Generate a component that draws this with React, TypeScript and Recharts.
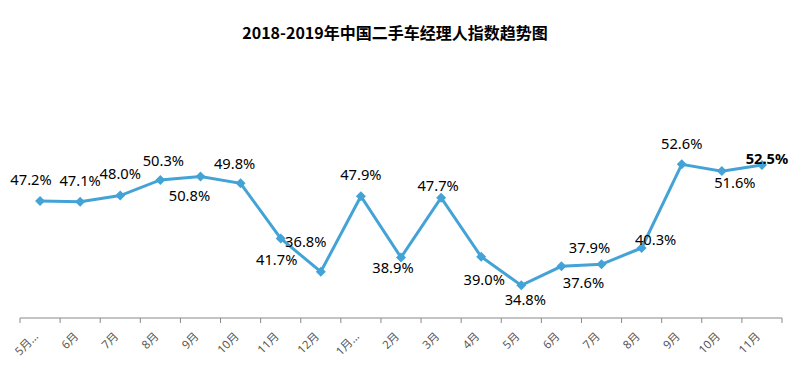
import { LineChart, Line, XAxis, YAxis } from "recharts";

const months = ["5月…", "6月", "7月", "8月", "9月", "10月", "11月", "12月", "1月…", "2月", "3月", "4月", "5月", "6月", "7月", "8月", "9月", "10月", "11月"];
const indexValues = [47.2, 47.1, 48.0, 50.3, 50.8, 49.8, 41.7, 36.8, 47.9, 38.9, 47.7, 39.0, 34.8, 37.6, 37.9, 40.3, 52.6, 51.6, 52.5];

// where each data label sits relative to its point (dx, dy), as in the source chart
const labelOffsets: [number, number][] = [
  [-9, -22], [0, -22], [0, -23], [3, -20], [-11, 18], [-6, -20], [-4, 21], [-15, -31],
  [0, -22], [-8, 10], [-3, -13], [3, 22], [4, 14], [22, 16], [-12, -17], [14, -9],
  [0, -21], [13, 11], [5, -7],
];

const data = months.map((m, i) => ({ month: m, value: indexValues[i] }));

const W = 802;
const H = 371;
const MARGIN = { top: 114, right: 20, bottom: 3, left: 20 };
const BAND = (W - MARGIN.left - MARGIN.right) / months.length;

const LINE = "#44a3d6";
const AXIS = "#898989";
const FONT = "'Noto Sans', 'Noto Sans CJK SC', sans-serif";

const renderDiamond = (props: any) => {
  const { cx, cy, index } = props;
  const r = 5;
  return (
    <polygon
      key={`d-${index}`}
      points={`${cx},${cy - r} ${cx + r},${cy} ${cx},${cy + r} ${cx - r},${cy}`}
      fill={LINE}
    />
  );
};

const renderValueLabel = (props: any) => {
  const x = props.x ?? props.viewBox?.x;
  const y = props.y ?? props.viewBox?.y;
  const index = props.index;
  const [dx, dy] = labelOffsets[index] ?? [0, -20];
  const last = index === indexValues.length - 1;
  return (
    <text
      key={`l-${index}`}
      x={x + dx}
      y={y + dy}
      textAnchor="middle"
      dominantBaseline="central"
      fontSize={14.7}
      fontFamily={FONT}
      fontWeight={last ? "bold" : "normal"}
      fill="#000"
    >
      {Number(props.value).toFixed(1)}%
    </text>
  );
};

// month label rotated 45°, plus the tick marks sitting on the band edges
const renderMonthTick = (props: any) => {
  const { x, y, payload, index } = props;
  const tx = x - 1;
  const ty = y + 19;
  const left = x - BAND / 2;
  const right = x + BAND / 2;
  return (
    <g key={`t-${index}`}>
      <line x1={left} y1={y} x2={left} y2={y + 5} stroke={AXIS} />
      {index === months.length - 1 && <line x1={right} y1={y} x2={right} y2={y + 5} stroke={AXIS} />}
      <text
        x={tx}
        y={ty}
        textAnchor="end"
        transform={`rotate(-45, ${tx}, ${ty})`}
        fontSize={11.5}
        fontFamily={FONT}
        fill="#595959"
      >
        {payload.value}
      </text>
    </g>
  );
};

export default function App() {
  return (
    <div style={{ position: "relative", margin: -8, width: W, height: H, background: "#fff" }}>
      <div
        style={{
          position: "absolute",
          top: 20,
          left: 0,
          width: 790,
          textAlign: "center",
          fontFamily: "'Noto Sans CJK SC', sans-serif",
          fontWeight: "bold",
          fontSize: 16,
          lineHeight: "24px",
          color: "#000",
        }}
      >
        2018-2019年中国二手车经理人指数趋势图
      </div>
      <LineChart width={W} height={H} data={data} margin={MARGIN}>
        <XAxis
          dataKey="month"
          interval={0}
          height={50}
          padding={{ left: BAND / 2, right: BAND / 2 }}
          tickSize={0}
          tickMargin={0}
          axisLine={{ stroke: AXIS }}
          tickLine={false}
          tick={renderMonthTick}
        />
        <YAxis hide domain={[30, 60]} />
        <Line
          dataKey="value"
          stroke={LINE}
          strokeWidth={3}
          dot={renderDiamond}
          activeDot={false}
          label={renderValueLabel}
          isAnimationActive={false}
        />
      </LineChart>
    </div>
  );
}
